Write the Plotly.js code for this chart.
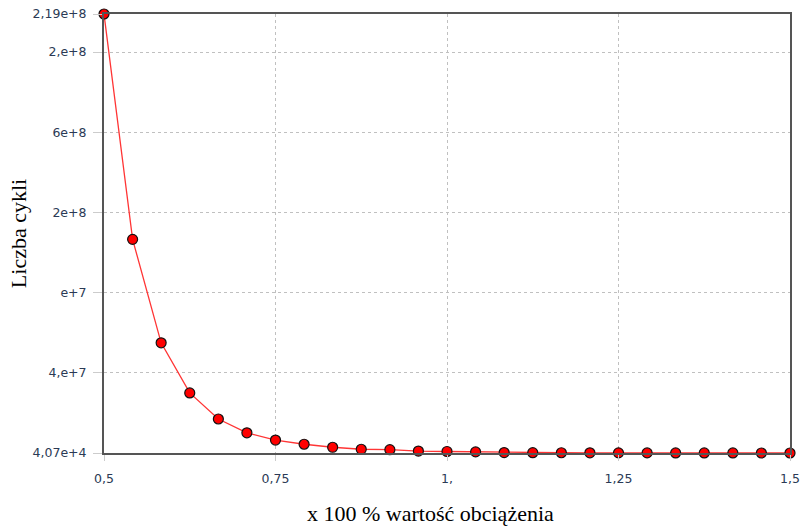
<!DOCTYPE html>
<html>
<head>
<meta charset="utf-8">
<script src="https://cdn.plot.ly/plotly-3.0.1.min.js"></script>
<style>html,body{margin:0;padding:0;background:#fff;}#chart{width:803px;height:526px;}</style>
</head>
<body>
<div id="chart"></div>
<script>
const loadFactor = [0.5, 0.5417, 0.5833, 0.625, 0.6667, 0.7083, 0.75, 0.7917, 0.8333, 0.875, 0.9167, 0.9583, 1.0, 1.0417, 1.0833, 1.125, 1.1667, 1.2083, 1.25, 1.2917, 1.3333, 1.375, 1.4167, 1.4583, 1.5];
const cycles = [2.19e8, 1.066e8, 5.5e7, 3.0e7, 1.7e7, 1.01e7, 6.5e6, 4.4e6, 2.9e6, 1.9e6, 1.7e6, 1.0e6, 8.0e5, 6.0e5, 2.5e5, 2.0e5, 1.6e5, 1.3e5, 1.1e5, 9.0e4, 7.5e4, 6.5e4, 5.5e4, 4.7e4, 4.07e4];
const xTickVals = [0.5, 0.75, 1.0, 1.25, 1.5];
const xTickText = ['0,5', '0,75', '1,', '1,25', '1,5'];
const yTickVals = [4.07e4, 4e7, 8e7, 1.2e8, 1.6e8, 2e8, 2.19e8];
const yTickText = ['4,07e+4', '4,e+7', 'e+7', '2e+8', '6e+8', '2,e+8', '2,19e+8'];
const xTitle = 'x 100 % wartość obciążenia';
const yTitle = 'Liczba cykli';

const tickFont = {family: 'DejaVu Sans, Verdana, sans-serif', size: 12.5, color: '#2b3a55'};
const titleFont = {family: 'Liberation Serif, Times New Roman, serif', size: 22, color: '#000'};

Plotly.newPlot('chart', [{
  x: loadFactor,
  y: cycles,
  type: 'scatter',
  mode: 'lines+markers',
  line: {color: '#ff3535', width: 1.3},
  marker: {color: '#ff0000', size: 10, line: {color: '#111', width: 1.2}},
  cliponaxis: false,
  hoverinfo: 'x+y'
}], {
  width: 803, height: 526,
  margin: {l: 104, r: 13, t: 14, b: 73},
  paper_bgcolor: '#fff', plot_bgcolor: '#fff',
  showlegend: false,
  xaxis: {
    range: [0.5, 1.5],
    tickmode: 'array', tickvals: xTickVals, ticktext: xTickText,
    showgrid: true, gridcolor: '#c0c0c0', griddash: '3px,3px', gridwidth: 1,
    zeroline: false,
    showline: true, linecolor: '#555', linewidth: 2, mirror: true,
    ticks: 'outside', ticklen: 6, tickcolor: '#ccc', tickwidth: 1,
    ticklabelstandoff: 7,
    tickfont: tickFont
  },
  yaxis: {
    range: [4.07e4, 2.19e8],
    tickmode: 'array', tickvals: yTickVals, ticktext: yTickText,
    showgrid: true, gridcolor: '#c0c0c0', griddash: '3px,3px', gridwidth: 1,
    zeroline: false,
    showline: true, linecolor: '#555', linewidth: 2, mirror: true,
    ticks: 'outside', ticklen: 9, tickcolor: '#ccc', tickwidth: 1,
    ticklabelstandoff: 4,
    tickfont: tickFont,
    title: {text: yTitle, font: titleFont, standoff: 0}
  },
  annotations: [{
    text: xTitle, font: titleFont, showarrow: false,
    xref: 'paper', yref: 'paper', x: 0.476, y: -0.137,
    xanchor: 'center', yanchor: 'middle'
  }]
}, {displayModeBar: false, staticPlot: true});
</script>
</body>
</html>
